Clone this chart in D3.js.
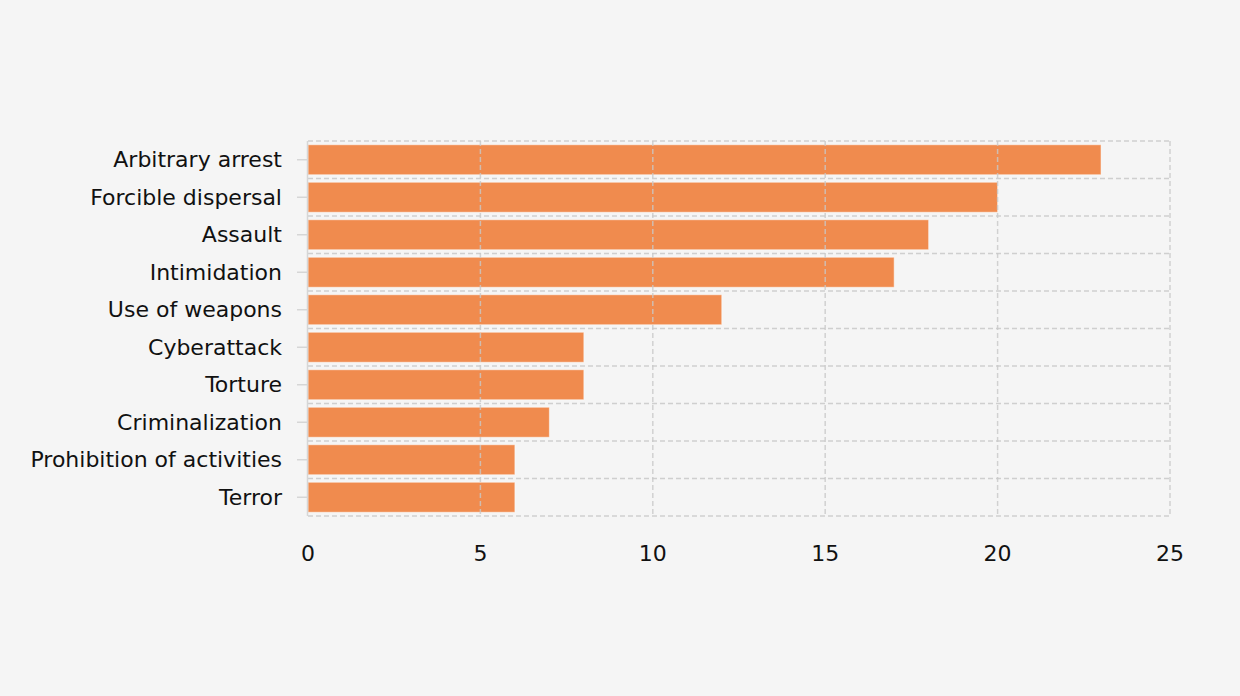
<!DOCTYPE html>
<html>
<head>
<meta charset="utf-8">
<script src="https://cdn.jsdelivr.net/npm/d3@7"></script>
<style>
  body { margin: 0; background: #f5f5f5; }
  text { font-family: "DejaVu Sans", Verdana, sans-serif; fill: #111; }
</style>
</head>
<body>
<div id="chart"></div>
<script>
// Data
const categories = ['Arbitrary arrest', 'Forcible dispersal', 'Assault', 'Intimidation', 'Use of weapons',
    'Cyberattack', 'Torture', 'Criminalization', 'Prohibition of activities', 'Terror'];
const counts = [23, 20, 18, 17, 12, 8, 8, 7, 6, 6];
const xTicks = [0, 5, 10, 15, 20, 25];

const width = 1240;
const height = 696;
const margin = { top: 141, right: 70, bottom: 180, left: 308 };
const fontSize = '22px';

const svg = d3.select('#chart')
    .append('svg')
    .attr('width', width)
    .attr('height', height);

svg.append('rect')
    .attr('width', width)
    .attr('height', height)
    .attr('fill', '#f5f5f5');

const x = d3.scaleLinear()
    .domain([0, 25])
    .range([margin.left, width - margin.right]);

const y = d3.scaleBand()
    .domain(categories)
    .range([margin.top, height - margin.bottom])
    .paddingInner(0.2)
    .paddingOuter(0.1);

const step = y.step();
const bandEdges = categories.map((c, i) => margin.top + i * step).concat([height - margin.bottom]);

// Horizontal dashed grid at category boundaries
svg.append('g')
    .selectAll('line')
    .data(bandEdges)
    .enter()
    .append('line')
    .attr('x1', x(0))
    .attr('x2', x(25))
    .attr('y1', d => d)
    .attr('y2', d => d)
    .attr('stroke', '#cfcfcf')
    .attr('stroke-width', 1.5)
    .attr('stroke-dasharray', '5,3');

// Bars
svg.append('g')
    .selectAll('rect')
    .data(counts)
    .enter()
    .append('rect')
    .attr('x', x(0))
    .attr('y', (d, i) => y(categories[i]))
    .attr('width', d => x(d) - x(0))
    .attr('height', y.bandwidth())
    .attr('fill', '#f0803c')
    .attr('fill-opacity', 0.9)
    .attr('stroke', '#ffffff')
    .attr('stroke-opacity', 0.5)
    .attr('stroke-width', 1);

// Vertical dashed grid (drawn on top, faint through bars)
svg.append('g')
    .selectAll('line')
    .data(xTicks.slice(1))
    .enter()
    .append('line')
    .attr('x1', d => x(d))
    .attr('x2', d => x(d))
    .attr('y1', margin.top)
    .attr('y2', height - margin.bottom)
    .attr('stroke', '#c8c8c8')
    .attr('stroke-opacity', 0.8)
    .attr('stroke-width', 1.5)
    .attr('stroke-dasharray', '5,3');

// Y axis line
svg.append('line')
    .attr('x1', x(0) - 0.5)
    .attr('x2', x(0) - 0.5)
    .attr('y1', margin.top)
    .attr('y2', height - margin.bottom)
    .attr('stroke', '#d6d6d6')
    .attr('stroke-width', 1.5);

// Y ticks and labels
const yAxis = svg.append('g');
yAxis.selectAll('line')
    .data(categories)
    .enter()
    .append('line')
    .attr('x1', x(0) - 11)
    .attr('x2', x(0) - 1)
    .attr('y1', d => y(d) + y.bandwidth() / 2)
    .attr('y2', d => y(d) + y.bandwidth() / 2)
    .attr('stroke', '#d6d6d6')
    .attr('stroke-width', 1.5);

yAxis.selectAll('text')
    .data(categories)
    .enter()
    .append('text')
    .attr('x', x(0) - 26)
    .attr('y', d => y(d) + y.bandwidth() / 2)
    .attr('dy', '0.35em')
    .attr('text-anchor', 'end')
    .style('font-size', fontSize)
    .text(d => d);

// X tick labels
svg.append('g')
    .selectAll('text')
    .data(xTicks)
    .enter()
    .append('text')
    .attr('x', d => x(d))
    .attr('y', height - margin.bottom + 37)
    .attr('dy', '0.35em')
    .attr('text-anchor', 'middle')
    .style('font-size', fontSize)
    .text(d => d);
</script>
</body>
</html>
